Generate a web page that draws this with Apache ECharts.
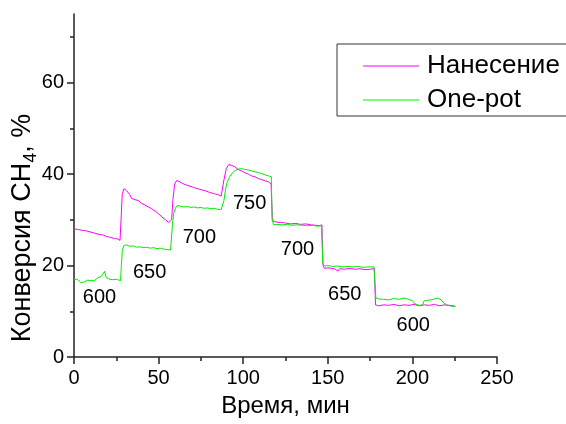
<!DOCTYPE html>
<html>
<head>
<meta charset="utf-8">
<script src="https://cdn.jsdelivr.net/npm/echarts@6/dist/echarts.min.js"></script>
<style>html,body{margin:0;padding:0;background:#fff}#c{width:566px;height:424px}</style>
</head>
<body>
<div id="c"></div>
<script>
// Series names
var seriesNames = ['Нанесение', 'One-pot'];
// Нанесение: time (min) and conversion (%)
var tNan = [0,2,3,5,7,8,10,12,13,15,17,19,21,22,24,26,27.2,27.8,28.5,29.5,31,32,33,34,35,36,37,38,39,40,41,42,43,44,45,46,48,50,52,54,55,56,57,57.7,58.5,59.5,60.7,62,63,65,68,70,72,75,78,80,83,85,87,87.7,88.5,90,91.5,93,94,95,97,99,101,103,105,107,109,111,113,115,116.5,117.2,118,119,120,122,125,128,131,134,137,140,143,145,146.5,147.2,148,150,152,154,155,156,157,160,163,166,169,172,175,177.5,178.2,180,183,186,189,192,195,198,201,204,207,210,213,216,219,222,225.5];
var yNan = [28.0,27.9,28.1,27.7,27.6,27.8,27.3,27.1,27.3,26.8,26.7,26.4,26.2,26.3,25.9,25.8,25.5,30.0,35.5,36.8,36.4,36.2,35.5,34.7,34.6,34.4,34.6,34.2,33.9,33.6,33.5,33.2,32.9,32.8,32.6,32.4,31.9,31.3,30.6,30.0,29.6,29.4,29.3,30.0,34.5,37.8,38.6,38.4,38.0,37.8,37.4,37.2,36.9,36.6,36.3,36.0,35.7,35.5,35.2,35.4,38.5,41.2,42.1,41.9,41.5,41.6,41.0,40.7,40.3,40.0,39.6,39.4,39.0,38.8,38.5,38.3,37.8,30.5,29.6,29.9,29.5,29.4,29.3,29.1,29.2,29.0,29.1,28.9,28.8,28.7,28.9,20.0,19.4,19.5,19.4,19.3,19.0,18.8,19.3,19.2,19.4,19.2,19.3,19.1,19.2,19.3,11.4,11.2,11.4,11.3,11.5,11.2,11.4,11.3,11.5,11.2,11.4,11.3,11.5,11.2,11.4,11.3,11.1];
// One-pot: time (min) and conversion (%)
var tOne = [0,1,2,3,4,5,6,7,8,9,10,11,12,13,14,15,16,17,18,18.5,19,20,21,22,23,24,25,26,27.5,28,28.6,29.5,31,33,35,37,39,41,43,45,47,49,51,53,55,57,57.3,58.2,59,60,61,63,65,67,69,71,73,75,77,79,81,83,85,87,88,88.6,89.5,90.5,92,93.5,95,97,99,101,103,105,107,109,111,113,115,116.6,117.1,118,120,123,126,129,132,135,138,141,144,146.3,147,148,150,153,156,159,162,165,168,171,174,177.3,178.4,180,183,186,189,192,195,197,200,201.5,204,206,207,209,211,213,215,217,218.5,220,222,225];
var yOne = [16.9,16.8,17.0,16.6,16.3,16.1,16.4,16.5,16.8,16.6,16.7,16.9,16.7,17.1,17.3,17.2,17.6,18.1,18.7,18.3,17.4,17.3,17.0,17.1,16.9,16.8,17.0,16.7,16.7,20.0,23.5,24.4,24.5,24.2,24.3,24.0,24.1,23.9,24.0,23.8,23.9,23.7,23.8,23.6,23.5,23.4,24.5,29.0,31.5,32.6,33.1,33.0,32.8,32.9,32.7,32.8,32.6,32.7,32.5,32.6,32.4,32.5,32.3,32.2,32.6,34.2,36.5,38.2,39.4,40.2,40.7,41.1,41.2,41.0,40.9,40.7,40.5,40.3,40.1,39.8,39.6,39.4,30.0,28.9,29.0,28.9,29.0,28.8,28.9,28.8,28.7,28.8,28.6,28.7,20.5,19.9,20.0,19.8,19.9,19.7,19.8,19.7,19.8,19.6,19.7,19.7,12.9,12.7,12.6,12.5,12.8,12.6,12.9,12.7,12.3,11.6,11.3,11.4,12.3,12.4,12.5,12.7,12.9,12.5,11.8,11.4,11.2,11.0];
// Temperature annotations (°C) placed at data coordinates
var annoText = ['600','650','700','750','700','650','600'];
var annoX = [15.1, 44.7, 74.1, 103.8, 132.1, 160.0, 200.5];
var annoY = [13.0, 18.5, 26.1, 33.5, 23.6, 13.7, 6.8];
// Tick values
var xTicks = [0,50,100,150,200,250];
var yMajorTicks = [0,20,40,60];
var yMinorTicks = [10,30,50,70];
var xTitle = 'Время, мин';

function zip(a, b) { return a.map(function (v, i) { return [v, b[i]]; }); }

var FONT = '"Liberation Sans", Arial, sans-serif';
var AX = '#222';

var chart = echarts.init(document.getElementById('c'), null, {renderer: 'canvas'});
chart.setOption({
  animation: false,
  backgroundColor: '#fff',
  textStyle: {fontFamily: FONT},
  grid: {left: 74, right: 69, top: 14, bottom: 67, containLabel: false},
  legend: {
    orient: 'vertical', left: 337, top: 44,
    data: seriesNames,
    icon: 'rect', itemWidth: 56, itemHeight: 1, itemGap: 8,
    borderColor: '#333', borderWidth: 1, borderRadius: 0,
    padding: [9, 30, 3, 26],
    textStyle: {fontSize: 26, color: '#000', fontFamily: FONT, lineHeight: 26, padding: [0, 0, 0, 3]}
  },
  xAxis: {
    type: 'value', min: 0, max: 250, interval: 50,
    name: xTitle, nameLocation: 'middle', nameGap: 37,
    nameTextStyle: {fontSize: 24, color: '#000', fontFamily: FONT},
    axisLine: {show: true, lineStyle: {color: AX, width: 1.5}},
    axisTick: {show: true, length: 7, lineStyle: {color: AX, width: 1.5}},
    minorTick: {show: true, splitNumber: 2, length: 4, lineStyle: {color: AX, width: 1.5}},
    axisLabel: {fontSize: 20, color: '#000', margin: 11, fontFamily: FONT,
      customValues: xTicks},
    splitLine: {show: false}, minorSplitLine: {show: false}
  },
  yAxis: [{
    type: 'value', min: 0, max: 75, position: 'left',
    axisLine: {show: true, lineStyle: {color: AX, width: 1.5}},
    axisTick: {show: true, length: 7, lineStyle: {color: AX, width: 1.5}, customValues: yMajorTicks},
    axisLabel: {fontSize: 20, color: '#000', margin: 10, fontFamily: FONT, customValues: yMajorTicks},
    splitLine: {show: false}
  }, {
    type: 'value', min: 0, max: 75, position: 'left',
    axisLine: {show: false},
    axisTick: {show: true, length: 4, lineStyle: {color: AX, width: 1.5}, customValues: yMinorTicks},
    axisLabel: {show: false},
    splitLine: {show: false}
  }],
  graphic: [{
    type: 'text', x: 23, y: 228, rotation: Math.PI / 2,
    style: {
      text: '{a|Конверсия CH}{s|4}{a|, %}',
      align: 'center', verticalAlign: 'middle',
      fill: '#000',
      rich: {
        a: {fontSize: 27, fontFamily: FONT, fill: '#000', lineHeight: 30},
        s: {fontSize: 18, fontFamily: FONT, fill: '#000', lineHeight: 30, padding: [16, 0, 0, 0]}
      }
    }
  }],
  series: [{
    name: seriesNames[0], type: 'line', data: zip(tNan, yNan),
    showSymbol: false, symbol: 'none', color: '#ff00ff',
    lineStyle: {color: '#ff00ff', width: 1}, z: 3
  }, {
    name: seriesNames[1], type: 'line', data: zip(tOne, yOne),
    showSymbol: false, symbol: 'none', color: '#00ff00',
    lineStyle: {color: '#00ee00', width: 1}, z: 4
  }, {
    name: 'labels', type: 'scatter', symbolSize: 0, silent: true,
    itemStyle: {opacity: 1, color: '#000'},
    data: annoX.map(function (x, i) { return [x, annoY[i], annoText[i]]; }),
    label: {show: true, position: 'inside', fontSize: 20, color: '#000', opacity: 1, fontFamily: FONT,
      formatter: function (p) { return p.value[2]; }}
  }]
});
</script>
</body>
</html>
